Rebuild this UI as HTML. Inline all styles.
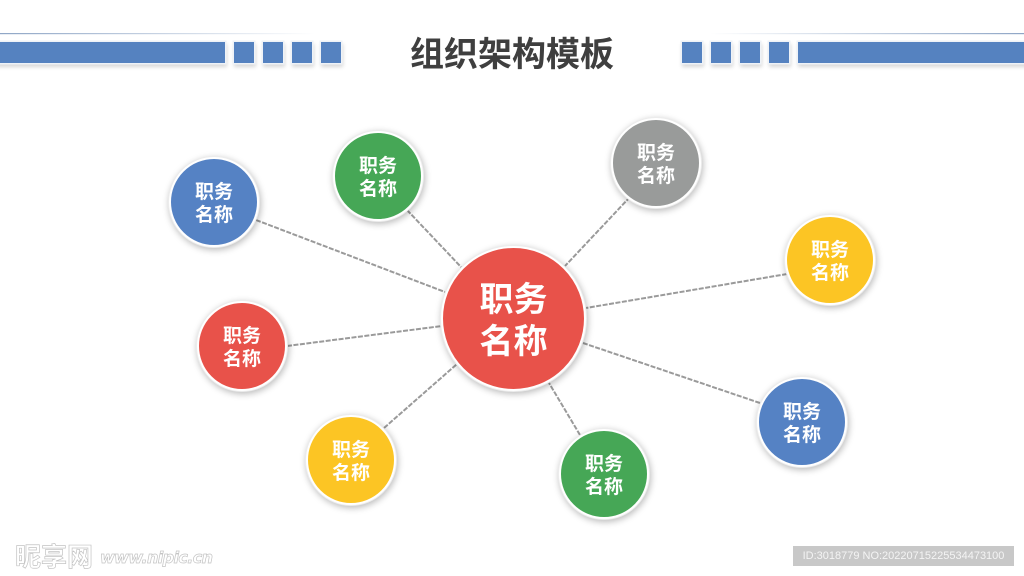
<!DOCTYPE html>
<html><head><meta charset="utf-8">
<style>
html,body{margin:0;padding:0;background:#fff;}
#p{position:relative;width:1024px;height:576px;overflow:hidden;background:#fff;font-family:"Liberation Sans","Noto Sans CJK SC",sans-serif;}
.b{position:absolute;background:#5582c0;box-shadow:0 0 0 1.5px #eef2f7,1px 3px 4px 1px rgba(0,0,0,.16);top:42px;height:21px;}
.c{position:absolute;border-radius:50%;box-sizing:border-box;border:2px solid #fff;box-shadow:0 0 0 1px #ececec,1px 2px 7px 1px rgba(0,0,0,.27);color:#fff;font-weight:700;text-align:center;display:flex;align-items:center;justify-content:center;width:90px;height:90px;font-size:19px;line-height:23px;padding-top:3px;}
.t{position:absolute;left:362px;width:300px;top:32px;text-align:center;font-size:34px;line-height:46px;font-weight:700;color:#3f3f3f;}
</style></head><body><div id="p">
<svg width="1024" height="576" style="position:absolute;left:0;top:0">
<defs>
<linearGradient id="g1" x1="0" x2="1" y1="0" y2="0"><stop offset="0" stop-color="#8fa6c6"/><stop offset="1" stop-color="#fff"/></linearGradient>
<linearGradient id="g2" x1="0" x2="1" y1="0" y2="0"><stop offset="0" stop-color="#fff"/><stop offset="1" stop-color="#8fa6c6"/></linearGradient>
</defs>
<rect x="0" y="33" width="315" height="1.2" fill="url(#g1)"/>
<rect x="710" y="33" width="314" height="1.2" fill="url(#g2)"/>
<g stroke="#9a9a9a" stroke-width="2" stroke-dasharray="5 1.5" fill="none">
<line x1="256" y1="220" x2="445" y2="292"/>
<line x1="407" y1="210" x2="462" y2="268"/>
<line x1="630" y1="197" x2="565" y2="266"/>
<line x1="787" y1="274" x2="586" y2="308"/>
<line x1="760" y1="403" x2="583" y2="343"/>
<line x1="580" y1="435" x2="549" y2="383"/>
<line x1="384" y1="428" x2="457" y2="364"/>
<line x1="287" y1="346" x2="442" y2="326"/>
</g>
</svg>
<div class="b" style="left:-4px;width:229px"></div>
<div class="b" style="left:234px;width:20px"></div>
<div class="b" style="left:263px;width:20px"></div>
<div class="b" style="left:292px;width:20px"></div>
<div class="b" style="left:321px;width:20px"></div>
<div class="b" style="left:682px;width:20px"></div>
<div class="b" style="left:711px;width:20px"></div>
<div class="b" style="left:740px;width:20px"></div>
<div class="b" style="left:769px;width:20px"></div>
<div class="b" style="left:798px;width:230px"></div>
<div class="t">组织架构模板</div>
<div class="c" style="left:169px;top:157px;background:#5582c4">职务<br>名称</div>
<div class="c" style="left:333px;top:131px;background:#46a756">职务<br>名称</div>
<div class="c" style="left:611px;top:118px;background:#999b9a">职务<br>名称</div>
<div class="c" style="left:785px;top:215px;background:#fcc524">职务<br>名称</div>
<div class="c" style="left:757px;top:377px;background:#5582c4">职务<br>名称</div>
<div class="c" style="left:559px;top:429px;background:#46a756">职务<br>名称</div>
<div class="c" style="left:306px;top:415px;background:#fcc524">职务<br>名称</div>
<div class="c" style="left:197px;top:301px;background:#e8524a">职务<br>名称</div>
<div class="c" style="left:441px;top:246px;width:145px;height:145px;background:#e8524a;font-size:34px;line-height:42px;padding-top:5px">职务<br>名称</div>
<div style="position:absolute;left:15px;top:543px;font-size:26px;line-height:28px;font-weight:700;color:#fff;-webkit-text-stroke:.7px #c4c4c4;white-space:nowrap">昵享网<span style="font-size:16px;position:absolute;left:85px;top:1px;font-family:'DejaVu Sans',sans-serif;font-style:italic;letter-spacing:-.6px">www.nipic.cn</span></div>
<div style="position:absolute;left:793px;top:546px;width:221px;height:20px;background:#c8c8c8;color:#f4f4f4;font-size:11px;line-height:20px;text-align:center;white-space:nowrap">ID:3018779 NO:20220715225534473100</div>
</div></body></html>
